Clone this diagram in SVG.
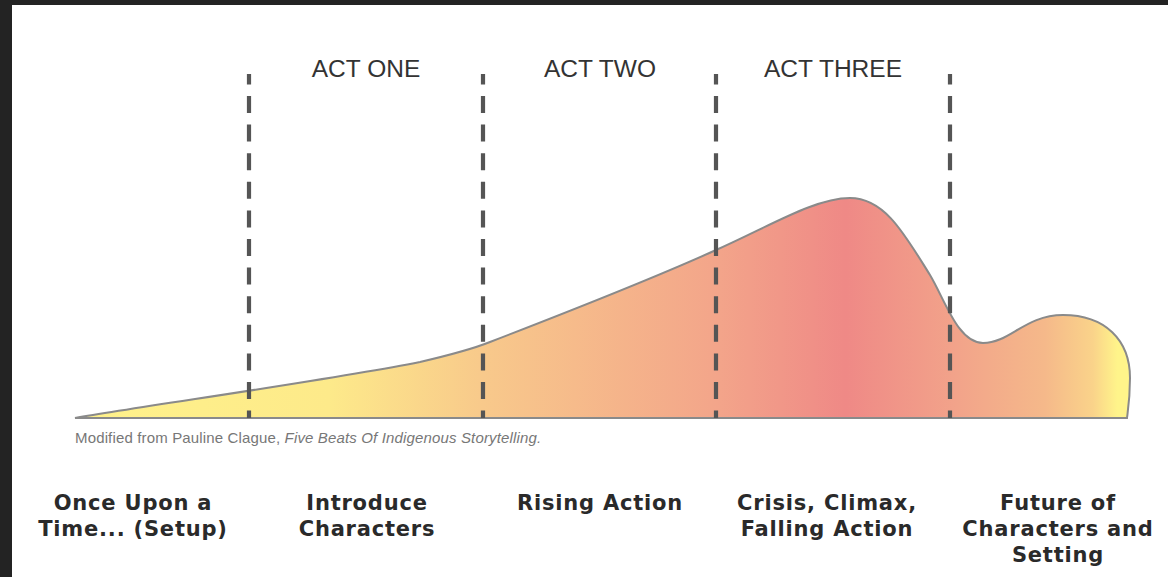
<svg xmlns="http://www.w3.org/2000/svg" width="1168" height="577" viewBox="0 0 1168 577">
<style>
.act{font-family:"Liberation Sans",Arial,sans-serif;font-size:24.5px;fill:#333;text-anchor:middle}
.beat{font-family:"DejaVu Sans",Verdana,sans-serif;font-weight:bold;font-size:21px;letter-spacing:0.8px;fill:#2a2a2a;text-anchor:middle}
.cap{font-family:"Liberation Sans",Arial,sans-serif;font-size:15px;letter-spacing:0.15px;fill:#777}
.div{stroke:#555;stroke-width:4.2;stroke-dasharray:17 11.6;stroke-dashoffset:6.6;fill:none}
</style>
<defs>
<linearGradient id="g" gradientUnits="userSpaceOnUse" x1="75" y1="0" x2="1130" y2="0">
<stop offset="0" stop-color="#fff28a"/>
<stop offset="0.24" stop-color="#fdea8a"/>
<stop offset="0.387" stop-color="#f8c98b"/>
<stop offset="0.608" stop-color="#f3a58a"/>
<stop offset="0.73" stop-color="#ef8986"/>
<stop offset="0.835" stop-color="#f2a38a"/>
<stop offset="0.92" stop-color="#f5b98a"/>
<stop offset="0.965" stop-color="#fad38a"/>
<stop offset="0.988" stop-color="#fff48a"/>
<stop offset="1" stop-color="#fff48a"/>
</linearGradient>
</defs>
<rect width="1168" height="577" fill="#ffffff"/>
<rect x="0" y="0" width="1168" height="5" fill="#232323"/>
<rect x="0" y="0" width="12" height="577" fill="#232323"/>
<g id="curve">
<path d="M75,418 C150,405 330,380 420,362 C450,355 470,350 490,342 C560,315 650,280 716,250 C770,226 815,198 850,198 C885,198 905,235 930,275 C945,300 958,343 983,343 C1010,343 1025,315 1063,315 C1105,315 1130,340 1130,378 C1130,398 1128,410 1127,418 Z" fill="url(#g)" stroke="#8a8a8a" stroke-width="2"/>
</g>
<g id="connectors">
<line class="div" x1="249" y1="74" x2="249" y2="418"/>
<line class="div" x1="483" y1="74" x2="483" y2="418"/>
<line class="div" x1="716" y1="74" x2="716" y2="418"/>
<line class="div" x1="950" y1="74" x2="950" y2="418"/>
</g>
<g id="act-one"><text class="act" x="366" y="77">ACT ONE</text></g>
<g id="act-two"><text class="act" x="600" y="77">ACT TWO</text></g>
<g id="act-three"><text class="act" x="833" y="77">ACT THREE</text></g>
<g id="caption"><text class="cap" x="75" y="443">Modified from Pauline Clague, <tspan font-style="italic">Five Beats Of Indigenous Storytelling.</tspan></text></g>
<g id="beat-1"><text class="beat" x="133" y="510">Once Upon a</text><text class="beat" x="133" y="536">Time... (Setup)</text></g>
<g id="beat-2"><text class="beat" x="367" y="510">Introduce</text><text class="beat" x="367" y="536">Characters</text></g>
<g id="beat-3"><text class="beat" x="600" y="510">Rising Action</text></g>
<g id="beat-4"><text class="beat" x="827" y="510">Crisis, Climax,</text><text class="beat" x="827" y="536">Falling Action</text></g>
<g id="beat-5"><text class="beat" x="1058" y="510">Future of</text><text class="beat" x="1058" y="536">Characters and</text><text class="beat" x="1058" y="562">Setting</text></g>
</svg>
